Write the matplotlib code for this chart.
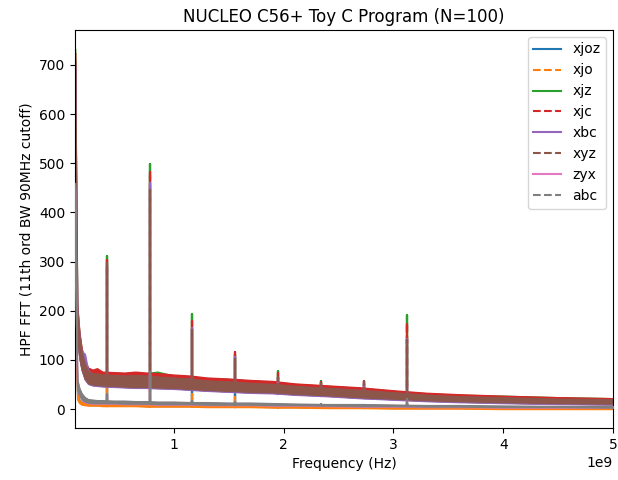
import numpy as np
import matplotlib
matplotlib.use("Agg")
import matplotlib.pyplot as plt

# ---- data (frequency in GHz, amplitude in FFT units) ----
series_names = ["xjoz", "xjo", "xjz", "xjc", "xbc", "xyz", "zyx", "abc"]
series_colors = ["C0", "C1", "C2", "C3", "C4", "C5", "C6", "C7"]
series_styles = ["-", "--", "-", "--", "-", "--", "-", "--"]

env_freq_ghz = [0.10, 0.12, 0.14, 0.16, 0.19, 0.22, 0.26, 0.30, 0.35, 0.45,
                0.55, 0.65, 0.75, 0.85, 1.00, 1.15, 1.30, 1.50, 1.70, 1.90,
                2.10, 2.40, 2.70, 3.00, 3.30, 3.60, 4.00, 4.50, 5.00]

# noise band envelopes (upper / lower) per series
xjoz_hi = [420, 32, 19, 15, 13, 12, 12, 11, 11, 11, 11, 10, 10, 10, 10, 9, 9, 9, 8, 8, 7, 7, 6, 6, 5, 5, 4, 4, 4]
xjoz_lo = [250, 21, 13, 10, 9, 8, 8, 8, 7, 7, 7, 7, 6, 6, 6, 6, 5, 5, 5, 4, 4, 3, 3, 2, 2, 2, 1, 1, 1]
xjo_hi = [400, 30, 18, 14, 12, 11, 11, 10, 10, 10, 10, 9, 9, 9, 9, 8, 8, 8, 7, 7, 6, 6, 5, 5, 4, 4, 3, 3, 3]
xjo_lo = [240, 20, 12, 9, 8, 7, 7, 7, 6, 6, 6, 6, 5, 5, 5, 5, 4, 4, 4, 3, 3, 2, 2, 1, 1, 1, 0, 0, 0]
xjz_hi = [733, 210, 154, 122, 96, 82, 78, 80, 74, 74, 73, 74, 73, 76, 68, 66, 63, 61, 58, 56, 51, 47, 43, 37, 32, 29, 27, 24, 22]
xjz_lo = [574, 144, 105, 81, 61, 52, 49, 48, 47, 46, 45, 44, 44, 43, 42, 40, 38, 36, 34, 33, 30, 27, 23, 20, 17, 15, 13, 11, 10]
xjc_hi = [725, 212, 156, 124, 98, 84, 80, 83, 76, 75, 74, 76, 74, 73, 70, 68, 64, 62, 59, 57, 52, 48, 44, 38, 33, 30, 27, 24, 22]
xjc_lo = [574, 144, 105, 81, 61, 52, 49, 48, 47, 46, 45, 44, 44, 43, 42, 40, 38, 36, 34, 33, 30, 27, 23, 20, 17, 15, 13, 11, 10]
xbc_hi = [700, 205, 150, 118, 112, 78, 72, 71, 69, 68, 67, 68, 67, 65, 63, 61, 57, 55, 52, 50, 46, 42, 38, 33, 28, 25, 23, 20, 19]
xbc_lo = [573, 143, 104, 80, 60, 51, 48, 47, 46, 45, 44, 43, 43, 42, 41, 39, 37, 35, 33, 32, 29, 26, 22, 19, 16, 14, 12, 10, 9]
xyz_hi = [710, 200, 148, 116, 92, 76, 73, 72, 70, 69, 68, 69, 68, 66, 64, 62, 58, 56, 53, 51, 47, 43, 39, 34, 29, 26, 24, 21, 20]
xyz_lo = [575, 145, 106, 82, 62, 53, 50, 49, 48, 47, 46, 45, 45, 44, 43, 41, 39, 37, 35, 34, 31, 28, 24, 21, 18, 16, 14, 12, 11]
zyx_hi = [450, 59, 41, 31, 23, 19, 18, 17, 17, 16, 16, 15, 15, 14, 14, 13, 13, 12, 12, 11, 10, 9, 9, 8, 7, 7, 6, 6, 5]
zyx_lo = [300, 39, 27, 19, 14, 12, 11, 11, 11, 11, 10, 10, 10, 9, 9, 9, 8, 8, 8, 7, 7, 6, 5, 5, 4, 4, 3, 3, 3]
abc_hi = [460, 60, 42, 32, 24, 20, 19, 18, 18, 17, 17, 16, 16, 15, 15, 14, 14, 13, 13, 12, 11, 10, 10, 9, 8, 8, 7, 6, 6]
abc_lo = [310, 40, 28, 20, 15, 13, 12, 12, 12, 12, 11, 11, 11, 10, 10, 10, 9, 9, 9, 8, 8, 7, 6, 6, 5, 5, 4, 4, 3]

# harmonic spikes (GHz) and their peak heights per series
spike_freq_ghz = [0.39, 0.78, 1.17, 1.56, 1.95, 2.34, 2.73, 3.12]
xjoz_peak = [48, 70, 36, 30, 9, 9, 8, 12]
xjo_peak = [49, 68, 31, 25, 8, 8, 7, 10]
xjz_peak = [311, 499, 193, 112, 77, 57, 50, 191]
xjc_peak = [303, 482, 180, 116, 73, 54, 56, 175]
xbc_peak = [292, 460, 165, 106, 66, 50, 52, 142]
xyz_peak = [297, 446, 160, 102, 65, 53, 56, 140]
zyx_peak = [28, 72, 16, 14, 11, 10, 9, 18]
abc_peak = [30, 75, 16, 14, 11, 10, 9, 20]

band_hi = [xjoz_hi, xjo_hi, xjz_hi, xjc_hi, xbc_hi, xyz_hi, zyx_hi, abc_hi]
band_lo = [xjoz_lo, xjo_lo, xjz_lo, xjc_lo, xbc_lo, xyz_lo, zyx_lo, abc_lo]
peaks = [xjoz_peak, xjo_peak, xjz_peak, xjc_peak, xbc_peak, xyz_peak, zyx_peak, abc_peak]

# ---- plot ----
fig = plt.figure(figsize=(6.18, 4.8), dpi=100)
ax = fig.add_axes([75 / 618, 1 - 428 / 480, (613 - 75) / 618, (428 - 30) / 480])

f_env = np.array(env_freq_ghz) * 1e9
f_sp = np.array(spike_freq_ghz) * 1e9

for i, name in enumerate(series_names):
    z = 2 + i * 0.1
    col = series_colors[i]
    hi = np.array(band_hi[i], float)
    lo = np.array(band_lo[i], float)
    ax.fill_between(f_env, lo, hi, color=col, linewidth=1.0, edgecolor=col, zorder=z)
    base = np.interp(f_sp, f_env, lo)
    xs, ys = [], []
    for fs, b, p in zip(f_sp, base, peaks[i]):
        # dense FFT trace passes the spike several times (up and down)
        xs += [fs, fs, fs, fs, fs, fs, fs, np.nan]
        ys += [b, p, b, p, b, p, b, np.nan]
    ax.plot(xs, ys, color=col, linestyle=series_styles[i], linewidth=1.5,
            label=name, zorder=z + 0.05)

ax.set_xlim(0.1e9, 5e9)
ax.set_ylim(-38.6, 771)
ax.set_title("NUCLEO C56+ Toy C Program (N=100)")
ax.set_xlabel("Frequency (Hz)")
ax.set_ylabel("HPF FFT (11th ord BW 90MHz cutoff)")
ax.legend(loc="upper right")

fig.savefig("out.png", dpi=100)
